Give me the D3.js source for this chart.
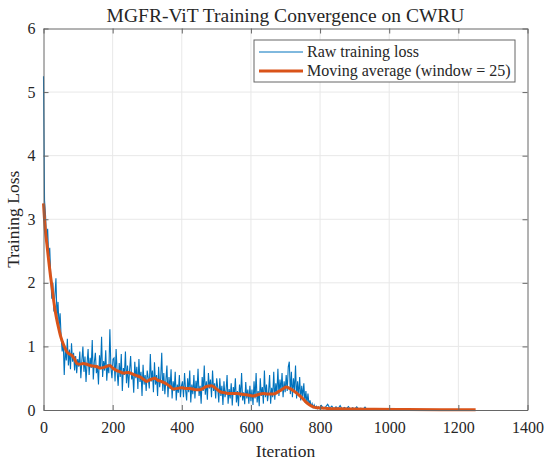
<!DOCTYPE html>
<html>
<head>
<meta charset="utf-8">
<script src="https://cdn.jsdelivr.net/npm/d3@7"></script>
<style>
  body { margin: 0; background: #fff; }
</style>
</head>
<body>
<div id="chart"></div>
<script>
// raw loss: every 3 iterations up to 798, then every 6 iterations
var rawHeadStep = 3;
var rawHead = [
  // 0 - 48
  5.25, 3.3, 3.05, 2.6, 2.85, 2.4, 2.55, 2.1, 1.75, 2.0, 1.55, 1.8, 2.07, 1.45, 1.7, 1.3, 1.52,
  // 51 - 99
  1.15, 0.92, 1.08, 0.55, 0.98, 0.78, 1.12, 0.7, 0.95, 0.64, 1.05, 0.76, 0.9, 0.62, 0.85, 0.58, 0.8,
  // 102 - 201
  0.68, 0.92, 0.5, 0.78, 1.0, 0.6, 0.84, 0.44, 0.73, 0.96, 0.55, 0.82, 0.66, 1.1, 0.48, 0.75, 0.9,
  0.58, 0.7, 0.4, 0.86, 0.64, 1.15, 0.52, 0.77, 0.62, 0.94, 0.46, 0.72, 0.58, 1.27, 0.66, 0.5, 0.8,
  // 204 - 300
  0.82, 0.45, 0.96, 0.6, 0.38, 0.74, 0.52, 0.88, 0.3, 0.66, 0.55, 0.92, 0.42, 0.7, 0.35, 0.62, 0.85,
  0.48, 0.58, 0.27, 0.76, 0.5, 0.68, 0.33, 0.8, 0.44, 0.6, 0.22, 0.71, 0.4, 0.55, 0.3, 0.62,
  // 303 - 399
  0.5, 0.34, 0.88, 0.45, 0.62, 0.28, 0.75, 0.4, 0.55, 0.22, 0.68, 0.36, 0.5, 0.9, 0.3, 0.58, 0.25,
  0.47, 0.7, 0.2, 0.52, 0.33, 0.64, 0.18, 0.45, 0.3, 0.6, 0.15, 0.4, 0.27, 0.55, 0.2, 0.38,
  // 402 - 501
  0.45, 0.2, 0.58, 0.32, 0.15, 0.5, 0.28, 0.62, 0.12, 0.4, 0.25, 0.55, 0.18, 0.46, 0.3, 0.65, 0.22,
  0.38, 0.1, 0.52, 0.3, 0.7, 0.24, 0.45, 0.16, 0.58, 0.34, 0.48, 0.2, 0.62, 0.3, 0.42, 0.18, 0.5,
  // 504 - 600
  0.35, 0.12, 0.5, 0.22, 0.38, 0.08, 0.45, 0.2, 0.3, 0.55, 0.1, 0.33, 0.18, 0.42, 0.07, 0.36, 0.24,
  0.5, 0.12, 0.3, 0.06, 0.4, 0.2, 0.58, 0.15, 0.28, 0.09, 0.44, 0.18, 0.32, 0.1, 0.38, 0.14,
  // 603 - 699
  0.32, 0.08, 0.45, 0.18, 0.58, 0.12, 0.3, 0.06, 0.5, 0.22, 0.36, 0.1, 0.62, 0.2, 0.4, 0.14, 0.28,
  0.55, 0.1, 0.35, 0.2, 0.6, 0.16, 0.42, 0.25, 0.65, 0.22, 0.48, 0.3, 0.58, 0.2, 0.45, 0.28,
  // 702 - 798
  0.55, 0.3, 0.68, 0.76, 0.25, 0.6, 0.2, 0.5, 0.3, 0.7, 0.18, 0.45, 0.22, 0.52, 0.15, 0.38, 0.2,
  0.42, 0.12, 0.3, 0.1, 0.26, 0.08, 0.15, 0.05, 0.1, 0.04, 0.08, 0.03, 0.06, 0.02, 0.05, 0.02
];
var rawTailStart = 804;
var rawTailStep = 6;
var rawTail = [
  0.07, 0.02, 0.05, 0.09, 0.03, 0.06, 0.015, 0.05, 0.02, 0.07, 0.01, 0.04, 0.02, 0.055, 0.01, 0.035, 0.015, 0.05, 0.01, 0.03,
  0.01, 0.045, 0.008, 0.02, 0.006, 0.015, 0.005, 0.012, 0.004, 0.01, 0.005, 0.012, 0.004, 0.009, 0.003, 0.01, 0.004, 0.008,
  0.003, 0.009, 0.004, 0.007, 0.003, 0.008, 0.003, 0.007, 0.002, 0.008, 0.003, 0.006, 0.002, 0.007, 0.003, 0.006, 0.002,
  0.005, 0.003, 0.006, 0.002, 0.005, 0.002, 0.006, 0.003, 0.005, 0.002, 0.004, 0.002, 0.005, 0.002, 0.004, 0.002, 0.005,
  0.002, 0.004, 0.003
];

// moving average (window = 25)
var maIter = [0, 5, 10, 15, 20, 25, 30, 35, 40, 45, 50, 55, 60, 67, 75, 82, 90, 97, 105, 115,
  125, 135, 145, 155, 165, 175, 185, 192, 200, 212, 222, 231, 245, 260, 270, 279, 290, 298, 310, 322,
  330, 340, 356, 366, 375, 388, 399, 410, 423, 440, 452, 462, 471, 486, 498, 510, 525, 539, 558, 570,
  587, 606, 620, 635, 650, 664, 680, 692, 702, 712, 726, 740, 750, 760, 770, 780, 793, 820, 861, 900,
  957, 1050, 1150, 1250];
var maLoss = [3.25, 2.85, 2.6, 2.35, 2.12, 1.92, 1.7, 1.52, 1.38, 1.26, 1.15, 1.07, 1.0, 0.92, 0.88, 0.86, 0.8, 0.73, 0.72, 0.73,
  0.72, 0.7, 0.69, 0.68, 0.66, 0.67, 0.69, 0.7, 0.66, 0.62, 0.6, 0.58, 0.59, 0.56, 0.54, 0.52, 0.48, 0.45, 0.48, 0.5,
  0.47, 0.45, 0.41, 0.37, 0.33, 0.34, 0.35, 0.34, 0.34, 0.32, 0.32, 0.34, 0.37, 0.38, 0.34, 0.29, 0.27, 0.26, 0.26, 0.25,
  0.24, 0.22, 0.24, 0.26, 0.25, 0.25, 0.29, 0.33, 0.36, 0.34, 0.29, 0.23, 0.18, 0.12, 0.08, 0.05, 0.035, 0.025, 0.02, 0.015,
  0.01, 0.007, 0.005, 0.004];

var xTicks = [0, 200, 400, 600, 800, 1000, 1200, 1400];
var yTicks = [0, 1, 2, 3, 4, 5, 6];
var legendLabels = ["Raw training loss", "Moving average (window = 25)"];
var seriesColors = ["#0072BD", "#D95319"];

var width = 550;
var height = 466;
var margin = { top: 28.5, right: 22.5, bottom: 56, left: 43.5 };
var serif = "Liberation Serif";

var x = d3.scaleLinear().domain([0, 1400]).range([margin.left, width - margin.right]);
var y = d3.scaleLinear().domain([0, 6]).range([height - margin.bottom, margin.top]);

var svg = d3.select("#chart").append("svg")
  .attr("width", width)
  .attr("height", height)
  .attr("font-family", serif)
  .attr("fill", "#262626");

// grid
var grid = svg.append("g").attr("stroke", "#e8e8e8").attr("stroke-width", 1);
grid.selectAll("line.gx").data(xTicks.slice(1, -1)).join("line")
  .attr("class", "gx")
  .attr("x1", (d) => x(d)).attr("x2", (d) => x(d))
  .attr("y1", y(0)).attr("y2", y(6));
grid.selectAll("line.gy").data(yTicks.slice(1, -1)).join("line")
  .attr("class", "gy")
  .attr("x1", x(0)).attr("x2", x(1400))
  .attr("y1", (d) => y(d)).attr("y2", (d) => y(d));

// raw loss line
var rawData = rawHead.map((v, i) => ({ it: i * rawHeadStep, loss: v }))
  .concat(rawTail.map((v, i) => ({ it: rawTailStart + i * rawTailStep, loss: v })));
var line = d3.line().x((d) => x(d.it)).y((d) => y(d.loss));

svg.append("path")
  .datum(rawData)
  .attr("fill", "none")
  .attr("stroke", seriesColors[0])
  .attr("stroke-width", 1.1)
  .attr("d", line);

var maData = maIter.map((it, i) => ({ it: it, loss: maLoss[i] }));
svg.append("path")
  .datum(maData)
  .attr("fill", "none")
  .attr("stroke", seriesColors[1])
  .attr("stroke-width", 3)
  .attr("stroke-linejoin", "round")
  .attr("d", d3.line().curve(d3.curveMonotoneX).x((d) => x(d.it)).y((d) => y(d.loss)));

// axes, ticks pointing inward, box on all four sides
function styleAxis(g) {
  g.attr("font-family", serif).attr("font-size", 16);
  g.selectAll(".domain").attr("stroke", "#666");
  g.selectAll(".tick line").attr("stroke", "#666");
  g.selectAll(".tick text")
    .attr("fill", "#262626")
    .attr("font-family", serif)
    .attr("font-size", 16);
}

svg.append("g")
  .attr("transform", `translate(0, ${y(0)})`)
  .call(d3.axisBottom(x).tickValues(xTicks).tickFormat(d3.format("d")).tickSizeInner(-5).tickSizeOuter(0).tickPadding(12))
  .call(styleAxis);

svg.append("g")
  .attr("transform", `translate(0, ${y(6)})`)
  .call(d3.axisTop(x).tickValues(xTicks).tickSizeInner(-5).tickSizeOuter(0).tickFormat(""))
  .call(styleAxis);

svg.append("g")
  .attr("transform", `translate(${x(0)}, 0)`)
  .call(d3.axisLeft(y).tickValues(yTicks).tickFormat(d3.format("d")).tickSizeInner(-5).tickSizeOuter(0).tickPadding(8))
  .call(styleAxis);

svg.append("g")
  .attr("transform", `translate(${x(1400)}, 0)`)
  .call(d3.axisRight(y).tickValues(yTicks).tickSizeInner(-5).tickSizeOuter(0).tickFormat(""))
  .call(styleAxis);

// labels
svg.append("text")
  .attr("x", (x(0) + x(1400)) / 2)
  .attr("y", 21.5)
  .attr("text-anchor", "middle")
  .attr("font-size", 19.5)
  .text("MGFR-ViT Training Convergence on CWRU");

svg.append("text")
  .attr("x", (x(0) + x(1400)) / 2)
  .attr("y", 457)
  .attr("text-anchor", "middle")
  .attr("font-size", 17.5)
  .text("Iteration");

svg.append("text")
  .attr("transform", `translate(18.5, ${(y(0) + y(6)) / 2}) rotate(-90)`)
  .attr("text-anchor", "middle")
  .attr("font-size", 17.5)
  .text("Training Loss");

// legend
var legend = svg.append("g").attr("transform", "translate(254, 40)");
legend.append("rect")
  .attr("width", 261).attr("height", 42)
  .attr("fill", "#fff")
  .attr("stroke", "#666")
  .attr("stroke-width", 1);

var items = legend.selectAll("g.item").data(legendLabels).join("g")
  .attr("class", "item")
  .attr("transform", (d, i) => `translate(0, ${12 + i * 19})`);
items.append("line")
  .attr("x1", 5).attr("x2", 49)
  .attr("stroke", (d, i) => seriesColors[i])
  .attr("stroke-width", (d, i) => (i === 0 ? 1 : 3));
items.append("text")
  .attr("x", 53)
  .attr("dy", "0.33em")
  .attr("font-size", 16)
  .text((d) => d);
</script>
</body>
</html>
